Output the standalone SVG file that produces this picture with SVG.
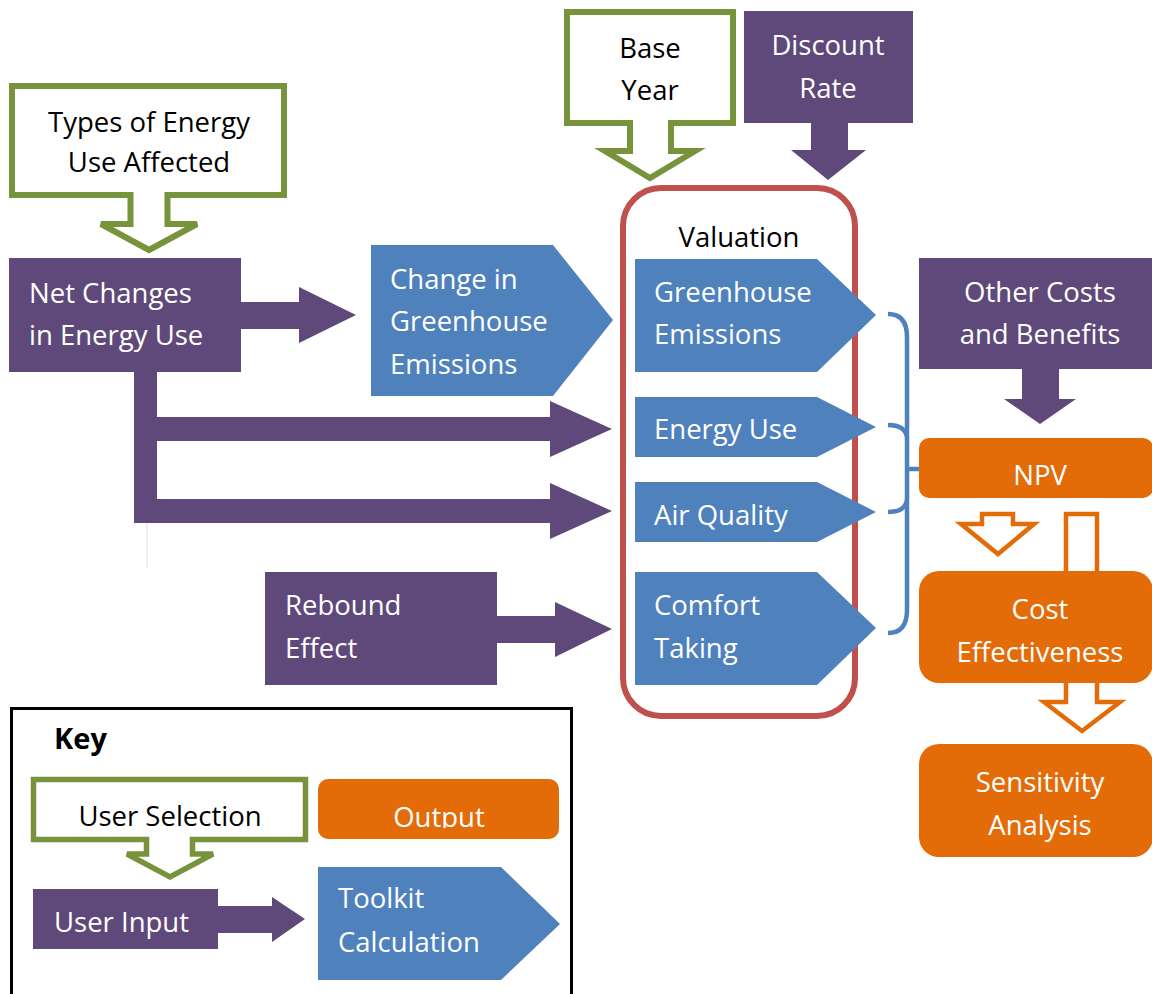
<svg xmlns="http://www.w3.org/2000/svg" width="1152" height="994" viewBox="0 0 1152 994">
<style>
text{font-family:"Open Sans","Noto Sans","Liberation Sans",sans-serif;font-size:27.5px}
.w{fill:#ffffff}
.k{fill:#000000}
.c{text-anchor:middle}
.purple{fill:#5f497a}
.blue{fill:#4f81bd}
.orange{fill:#e36c09}
.callout{fill:#ffffff;stroke:#77933c;stroke-width:6;stroke-linejoin:miter}
.hollow{fill:#ffffff;stroke:#e36c09;stroke-width:4.5}
.brace{fill:none;stroke:#4f81bd;stroke-width:4.5;stroke-linecap:butt}
</style>
<defs>
<clipPath id="outClip"><rect x="318" y="779" width="241" height="49"/></clipPath>
</defs>
<rect width="1152" height="994" fill="#ffffff"/>

<g id="connectors">
  <polygon class="purple" points="241,302 299,302 299,287 356,315 299,343 299,329 241,329"/>
  <polygon class="purple" points="134,372 157,372 157,417 550,417 550,401 612,429 550,457 550,441 157,441 157,499 550,499 550,483 612,511 550,539 550,523 134,523"/>
  <line x1="147" y1="523" x2="147" y2="568" stroke="#dcdce6" stroke-width="1"/>
  <polygon class="purple" points="497,616 555,616 555,602 612,629 555,657 555,643 497,643"/>
  <polygon class="purple" points="1022,369 1059,369 1059,399 1076,399 1040,424 1004,399 1022,399"/>
  <polygon class="purple" points="811,123 848,123 848,150 866,150 828,180 791,150 811,150"/>
  <path class="brace" d="M888,314 Q907,314 907,337 L907,610 Q907,633 888,633"/>
  <path class="brace" d="M888,425 Q905,425 907,437"/>
  <path class="brace" d="M907,500 Q905,512 888,512"/>
  <path class="brace" d="M907,469 L921,469"/>
  <path class="hollow" d="M982,514 H1013 V524 H1034 L998,554 L961,524 H982 Z"/>
  <path class="hollow" d="M1066,514 H1097 V702 H1120 L1082,731 L1044,702 H1066 Z"/>
</g>

<g id="types-energy">
  <path class="callout" d="M12,86 H284 V195 H167.5 V224 H197 L149,250 L101,224 H130.5 V195 H12 Z"/>
  <text class="k c" x="149" y="132">Types of Energy</text>
  <text class="k c" x="149" y="172">Use Affected</text>
</g>

<g id="base-year">
  <path class="callout" d="M567,12 H733 V123 H671 V151 H695 L650,178 L605,151 H630 V123 H567 Z"/>
  <text class="k c" x="650" y="58">Base</text>
  <text class="k c" x="650" y="100">Year</text>
</g>

<g id="discount-rate">
  <rect class="purple" x="744" y="11" width="169" height="112"/>
  <text class="w c" x="828" y="55">Discount</text>
  <text class="w c" x="828" y="98">Rate</text>
</g>

<g id="net-changes">
  <rect class="purple" x="9" y="258" width="232" height="114"/>
  <text class="w" x="29" y="303">Net Changes</text>
  <text class="w" x="29" y="345">in Energy Use</text>
</g>

<g id="change-greenhouse">
  <polygon class="blue" points="371,245 553,245 613,320 553,396 371,396"/>
  <text class="w" x="390" y="289">Change in</text>
  <text class="w" x="390" y="331">Greenhouse</text>
  <text class="w" x="390" y="374">Emissions</text>
</g>

<g id="rebound">
  <rect class="purple" x="265" y="572" width="232" height="113"/>
  <text class="w" x="285" y="615">Rebound</text>
  <text class="w" x="285" y="658">Effect</text>
</g>

<g id="valuation">
  <rect x="623" y="188" width="232" height="528" rx="38" fill="none" stroke="#c0504d" stroke-width="6"/>
  <text class="k c" x="739" y="247">Valuation</text>
</g>

<g id="greenhouse-emissions">
  <polygon class="blue" points="635,259 817,259 876,315 817,372 635,372"/>
  <text class="w" x="654" y="302">Greenhouse</text>
  <text class="w" x="654" y="344">Emissions</text>
</g>

<g id="energy-use">
  <polygon class="blue" points="635,397 817,397 876,427 817,457 635,457"/>
  <text class="w" x="654" y="439">Energy Use</text>
</g>

<g id="air-quality">
  <polygon class="blue" points="635,482 817,482 876,512 817,542 635,542"/>
  <text class="w" x="654" y="525">Air Quality</text>
</g>

<g id="comfort-taking">
  <polygon class="blue" points="635,572 817,572 876,628 817,685 635,685"/>
  <text class="w" x="654" y="615">Comfort</text>
  <text class="w" x="654" y="658">Taking</text>
</g>

<g id="other-costs">
  <rect class="purple" x="919" y="258" width="234" height="111"/>
  <text class="w c" x="1040" y="302">Other Costs</text>
  <text class="w c" x="1040" y="344">and Benefits</text>
</g>

<g id="npv">
  <rect class="orange" x="919" y="438" width="234" height="60" rx="10"/>
  <text class="w c" x="1040" y="485">NPV</text>
</g>

<g id="cost-effectiveness">
  <rect class="orange" x="919" y="571" width="234" height="112" rx="20"/>
  <text class="w c" x="1040" y="619">Cost</text>
  <text class="w c" x="1040" y="662">Effectiveness</text>
</g>

<g id="sensitivity">
  <rect class="orange" x="919" y="744" width="234" height="113" rx="20"/>
  <text class="w c" x="1040" y="792">Sensitivity</text>
  <text class="w c" x="1040" y="835">Analysis</text>
</g>

<g id="key">
  <rect x="11.5" y="708.5" width="560" height="300" fill="none" stroke="#000000" stroke-width="3"/>
  <text class="k" x="54" y="749" style="font-weight:bold;font-size:29px">Key</text>
</g>

<g id="key-user-selection">
  <path class="callout" style="stroke-width:5.5" d="M33.5,779.5 H305.5 V839.5 H192.5 V854 H213 L170,877 L127,854 H146.5 V839.5 H33.5 Z"/>
  <text class="k c" x="170" y="826">User Selection</text>
</g>

<g id="key-output">
  <rect class="orange" x="318" y="779" width="241" height="60" rx="10"/>
  <text class="w c" x="439" y="827" clip-path="url(#outClip)">Output</text>
</g>

<g id="key-user-input">
  <rect class="purple" x="33" y="889" width="185" height="60"/>
  <text class="w" x="54" y="932">User Input</text>
  <polygon class="purple" points="218,906 272,906 272,897 305,919 272,942 272,933 218,933"/>
</g>

<g id="key-toolkit">
  <polygon class="blue" points="318,867 501,867 560,924 501,980 318,980"/>
  <text class="w" x="338" y="908">Toolkit</text>
  <text class="w" x="338" y="952">Calculation</text>
</g>
</svg>
